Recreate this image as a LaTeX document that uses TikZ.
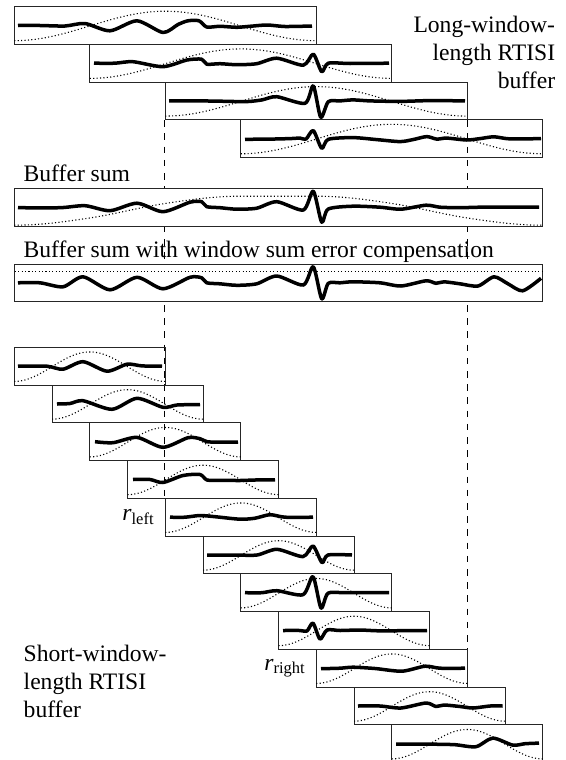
\documentclass[tikz,border=0pt]{standalone}
\usepackage{fontspec}
\setmainfont{Liberation Serif}
\usetikzlibrary{positioning,backgrounds}

\begin{document}
\begin{tikzpicture}[x=0.5pt, y=-0.5pt,
  font={\fontsize{11.8pt}{13.9pt}\selectfont},
  declare function={hann(\u)=(\u>0)*(\u<1)*0.5*(1-cos(360*\u));},
  frame/.style={draw=black!85, line width=0.5pt, inner sep=0pt, minimum height=18.85pt},
  longbox/.style={frame, minimum width=151pt},
  shortbox/.style={frame, minimum width=75.5pt},
  sumbox/.style={frame, fill=white, minimum width=264.25pt},
  signal/.style={line width=1.75pt, line join=round, smooth, tension=0.45},
  window/.style={line width=0.55pt, black, dash pattern=on 0.55pt off 1.15pt},
  guide/.style={line width=0.5pt, dash pattern=on 3.3pt off 3.3pt},
  labeltext/.style={inner sep=0pt}]
\useasboundingbox (0,0) rectangle (566,760);

% Long-window-length buffer
\node[longbox] (l1) at (165.3,25.5) {};
\node[longbox] (l2) at (240.8,63.2) {};
\node[longbox] (l3) at (316.3,100.9) {};
\node[longbox] (l4) at (391.8,138.6) {};
\node[labeltext, align=right, anchor=north east] (longlbl) at (555.5,16.2) {Long-window-\\length RTISI\\buffer};

\draw[window] plot[domain=14.3:316.3, samples=60] (\x, {40.7-29.5*hann((\x-14.3)/302)});
\draw[window] plot[domain=89.8:391.8, samples=60] (\x, {78.4-29.5*hann((\x-89.8)/302)});
\draw[window] plot[domain=165.3:467.3, samples=60] (\x, {116.1-29.5*hann((\x-165.3)/302)});
\draw[window] plot[domain=240.8:542.8, samples=60] (\x, {153.8-29.5*hann((\x-240.8)/302)});

\draw[signal, shift={(0,25.5)}] plot coordinates {(18,0) (40,0) (65,0.5) (85,-2) (110,5.3) (137,-4.7) (163,7) (178,-1) (188,-4.7) (199,-4.7) (206.7,1.5) (220,0.8) (236.7,1.8) (250,0.8) (267,-0.5) (285,1) (312,0.5)};
\draw[signal, shift={(0,63.2)}] plot coordinates {(94,0) (115,0) (133,-1.5) (163,3.5) (187,-3.2) (201.7,-4) (206.7,1) (220,0.5) (236.7,1.5) (256.7,0.5) (276.7,-5) (303.3,2) (313.3,-9) (321.7,8.5) (328.3,0) (350,0.3) (389,0)};
\draw[signal, shift={(0,100.9)}] plot coordinates {(169,0) (200,0) (220,0.3) (246.7,0.7) (262,-1) (276.7,-4.2) (305,2.4) (313.3,-15) (320.7,16.4) (328.3,0.8) (340,0) (353,-1) (370,0) (400,0.5) (430,-0.3) (465,0)};
\draw[signal, shift={(0,138.6)}] plot coordinates {(245,0.7) (270,0.5) (290,0) (300,-0.5) (306,0.5) (313.3,-8) (321.7,9.7) (328.3,0.7) (353,-1) (376.7,1) (400,3) (413,1) (426.7,-2) (436.7,0.5) (446.7,-0.5) (466.7,1.4) (480,0) (494,-1.8) (510,0.3) (541,0)};

% Buffer sums
\node[labeltext, anchor=base west] (sumlbl) at (23.3,181.7) {Buffer sum};
\node[sumbox] (sum) at (278.55,207.2) {};
\draw[window] plot[domain=14.3:542.8, samples=150] (\x, {225.2-14.5*(hann((\x-14.3)/302)+hann((\x-89.8)/302)+hann((\x-165.3)/302)+hann((\x-240.8)/302))});
\draw[signal, shift={(0,207.2)}] plot coordinates {(18,0.5) (60,0.5) (85,-1.5) (110,3.5) (137,-4) (163,4.5) (190,-5) (201.7,-5.5) (206.7,-0.5) (220,0.5) (236.7,2) (256.7,1) (276.7,-5.5) (303.3,2.8) (313.3,-16) (321.7,15) (328.3,1.8) (353,-1) (380,0) (401,2) (426,-2) (440,0) (460,0.5) (480,0) (510,0) (539,0)};

\node[labeltext, anchor=base west] (complbl) at (23.3,257.7) {Buffer sum with window sum error compensation};
\node[sumbox] (comp) at (278.55,282.85) {};
\draw[window] (14.8,271.7) -- (542.3,271.7);
\draw[signal, shift={(0,282.8)}] plot coordinates {(18,0) (40,0) (63,4) (83,-6) (110,7) (137,-5.5) (163,6) (190,-5.5) (201.7,-5) (206.7,0) (220,1) (236.7,2.5) (256.7,1) (276.7,-6.8) (303.3,2.2) (313.3,-16) (321.7,16) (328.3,0.5) (340,0) (353,-1) (380,0) (401,3.2) (426,-2) (436,0.5) (444,-1) (460,1) (478,3.2) (494,-6) (508,1) (522.7,8) (541,-4.5)};

% Short-window-length buffer
\node[shortbox] (s0) at (89.8,366.2) {};
\node[shortbox] (s1) at (127.55,403.95) {};
\node[shortbox] (s2) at (165.3,441.7) {};
\node[shortbox] (s3) at (203.05,479.45) {};
\node[shortbox] (s4) at (240.8,517.2) {};
\node[shortbox] (s5) at (278.55,554.95) {};
\node[shortbox] (s6) at (316.3,592.7) {};
\node[shortbox] (s7) at (354.05,630.45) {};
\node[shortbox] (s8) at (391.8,668.2) {};
\node[shortbox] (s9) at (429.55,705.95) {};
\node[shortbox] (s10) at (467.3,743.7) {};

\draw[window] plot[domain=14.3:165.3, samples=40] (\x, {381.4-29.5*hann((\x-14.3)/151)});
\draw[window] plot[domain=52.05:203.05, samples=40] (\x, {419.15-29.5*hann((\x-52.05)/151)});
\draw[window] plot[domain=89.8:240.8, samples=40] (\x, {456.9-29.5*hann((\x-89.8)/151)});
\draw[window] plot[domain=127.55:278.55, samples=40] (\x, {494.65-29.5*hann((\x-127.55)/151)});
\draw[window] plot[domain=165.3:316.3, samples=40] (\x, {532.4-29.5*hann((\x-165.3)/151)});
\draw[window] plot[domain=203.05:354.05, samples=40] (\x, {570.15-29.5*hann((\x-203.05)/151)});
\draw[window] plot[domain=240.8:391.8, samples=40] (\x, {607.9-29.5*hann((\x-240.8)/151)});
\draw[window] plot[domain=278.55:429.55, samples=40] (\x, {645.65-29.5*hann((\x-278.55)/151)});
\draw[window] plot[domain=316.3:467.3, samples=40] (\x, {683.4-29.5*hann((\x-316.3)/151)});
\draw[window] plot[domain=354.05:505.05, samples=40] (\x, {721.15-29.5*hann((\x-354.05)/151)});
\draw[window] plot[domain=391.8:542.8, samples=40] (\x, {758.9-29.5*hann((\x-391.8)/151)});

\draw[signal, shift={(0,366.2)}] plot coordinates {(18,0) (47,0) (63,3) (83,-4.5) (107,5) (127,-2) (142,-0.3) (162,0)};
\draw[signal, shift={(0,404)}] plot coordinates {(57,0) (70,-0.5) (83,-3.3) (112,5.3) (137,-5.7) (163,3.3) (177,1) (200,0.5)};
\draw[signal, shift={(0,441.7)}] plot coordinates {(95,0) (113,1) (137,-4.3) (163,5.6) (188,-4) (200,-3) (207,0) (220,0.5) (238,0.3)};
\draw[signal, shift={(0,479.5)}] plot coordinates {(133,0) (150,0) (163,3) (183,-4) (200,-5) (207,0.5) (220,0.8) (240,1) (255,0.5) (275,0.3)};
\draw[signal, shift={(0,517.2)}] plot coordinates {(170,0) (185,0) (200,-1.7) (215,-0.5) (240,2) (255,1) (270,-2.5) (285,0) (313,0)};
\draw[signal, shift={(0,555)}] plot coordinates {(207,0) (235,0) (257,0) (277,-5.7) (303,1.6) (313,-9) (322,7.6) (328,0) (352,0)};
\draw[signal, shift={(0,592.7)}] plot coordinates {(245,0) (262,0) (277,-2) (303,2) (313,-16) (321,15.3) (328,0.5) (345,0) (389,0)};
\draw[signal, shift={(0,630.5)}] plot coordinates {(283,0) (300,0) (307,0.5) (313,-7.4) (320,8.6) (327,-0.5) (340,0) (360,-0.5) (380,0.3) (427,0)};
\draw[signal, shift={(0,668.2)}] plot coordinates {(321,0.5) (340,0) (353,-1) (375,0.3) (402,3) (425,-2) (440,0) (465,0)};
\draw[signal, shift={(0,706)}] plot coordinates {(358,0) (380,0) (401,2) (426,-3) (436,0.5) (444,-1) (460,0.5) (473,2) (490,0) (502.7,0)};
\draw[signal, shift={(0,743.7)}] plot coordinates {(396,0.5) (433,0.5) (455,1) (476,3) (492.7,-5.6) (512.7,1.4) (525,0) (539,-0.6)};

\node[labeltext, left=4.9pt of s4] (rleft) {\textit{r}\textsubscript{left}};
\node[labeltext, left=4.8pt of s8] (rright) {\textit{r}\textsubscript{right}};
\node[labeltext, align=left, anchor=north west] (shortlbl) at (23.3,644.9) {Short-window-\\length RTISI\\buffer};

% Region limits
\begin{scope}[on background layer]
\draw[guide] (l3.south west) -- (s4.north west);
\draw[guide] (l3.south east) -- (s8.north east);
\end{scope}

\end{tikzpicture}
\end{document}
